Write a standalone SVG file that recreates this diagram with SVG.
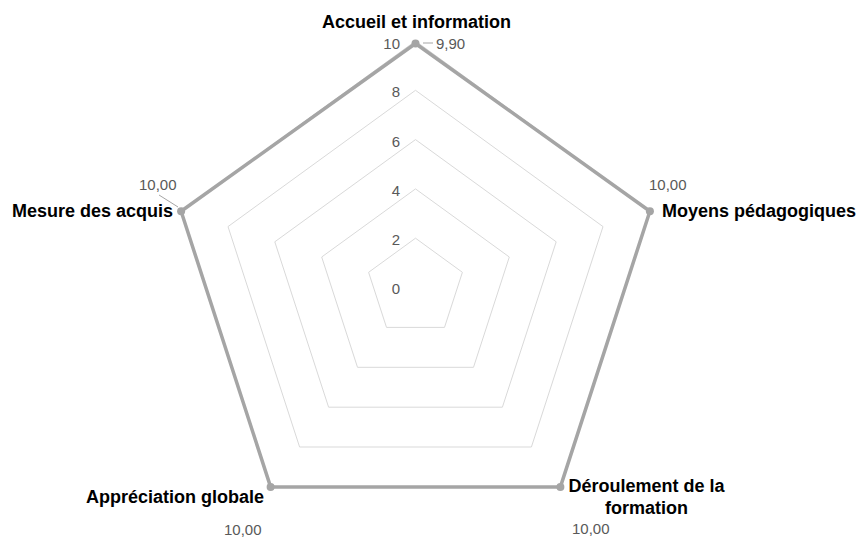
<svg xmlns="http://www.w3.org/2000/svg" width="861" height="537" viewBox="0 0 861 537">
<style>
.grid{fill:none;stroke:#d9d9d9;stroke-width:1}
.data{fill:none;stroke:#a5a5a5;stroke-width:3.5;stroke-linejoin:miter}
.dot{fill:#a5a5a5}
.tick{font-family:"Liberation Sans",Arial,sans-serif;font-size:15px;fill:#595959;text-anchor:end}
.val{font-family:"Liberation Sans",Arial,sans-serif;font-size:15px;fill:#595959}
.cat{font-family:"Liberation Sans",Arial,sans-serif;font-size:18px;font-weight:bold;fill:#000}
.lead{stroke:#a5a5a5;stroke-width:1}
</style>
<rect width="861" height="537" fill="#fff"/>
<g id="grid">
<polygon class="grid" points="415.5,238.2 462.4,272.3 444.5,327.4 386.5,327.4 368.6,272.3"/>
<polygon class="grid" points="415.5,188.9 509.3,257.0 473.5,367.3 357.5,367.3 321.7,257.0"/>
<polygon class="grid" points="415.5,139.6 556.2,241.8 502.4,407.2 328.6,407.2 274.8,241.8"/>
<polygon class="grid" points="415.5,90.3 603.0,226.6 531.4,447.0 299.6,447.0 228.0,226.6"/>
<polygon class="grid" points="415.5,41.0 649.9,211.3 560.4,486.9 270.6,486.9 181.1,211.3"/>
</g>
<g id="ticks">
<text class="tick" x="400" y="294">0</text>
<text class="tick" x="400" y="245">2</text>
<text class="tick" x="400" y="196">4</text>
<text class="tick" x="400" y="147">6</text>
<text class="tick" x="400" y="97">8</text>
<text class="tick" x="400" y="49">10</text>
</g>
<g id="connectors">
<polygon class="data" points="415.5,43.5 649.9,211.3 560.4,486.9 270.6,486.9 181.1,211.3"/>
<line class="lead" x1="423" y1="43" x2="433" y2="43"/>
<line class="lead" x1="159" y1="195" x2="178" y2="207"/>
</g>
<g id="n-accueil">
<circle class="dot" cx="415.5" cy="43.5" r="4"/>
<text class="cat" x="416.5" y="28" text-anchor="middle">Accueil et information</text>
<text class="val" x="436" y="49">9,90</text>
</g>
<g id="n-moyens">
<circle class="dot" cx="649.9" cy="211.3" r="4"/>
<text class="cat" x="662" y="217">Moyens pédagogiques</text>
<text class="val" x="649" y="190">10,00</text>
</g>
<g id="n-deroulement">
<circle class="dot" cx="560.4" cy="486.9" r="4"/>
<text class="cat" x="646.5" y="492" text-anchor="middle">Déroulement de la</text>
<text class="cat" x="646.5" y="513.5" text-anchor="middle">formation</text>
<text class="val" x="572" y="534">10,00</text>
</g>
<g id="n-appreciation">
<circle class="dot" cx="270.6" cy="486.9" r="4"/>
<text class="cat" x="264" y="502.5" text-anchor="end">Appréciation globale</text>
<text class="val" x="224" y="535">10,00</text>
</g>
<g id="n-mesure">
<circle class="dot" cx="181.1" cy="211.3" r="4"/>
<text class="cat" x="173" y="217" text-anchor="end">Mesure des acquis</text>
<text class="val" x="139" y="189.5">10,00</text>
</g>
</svg>
